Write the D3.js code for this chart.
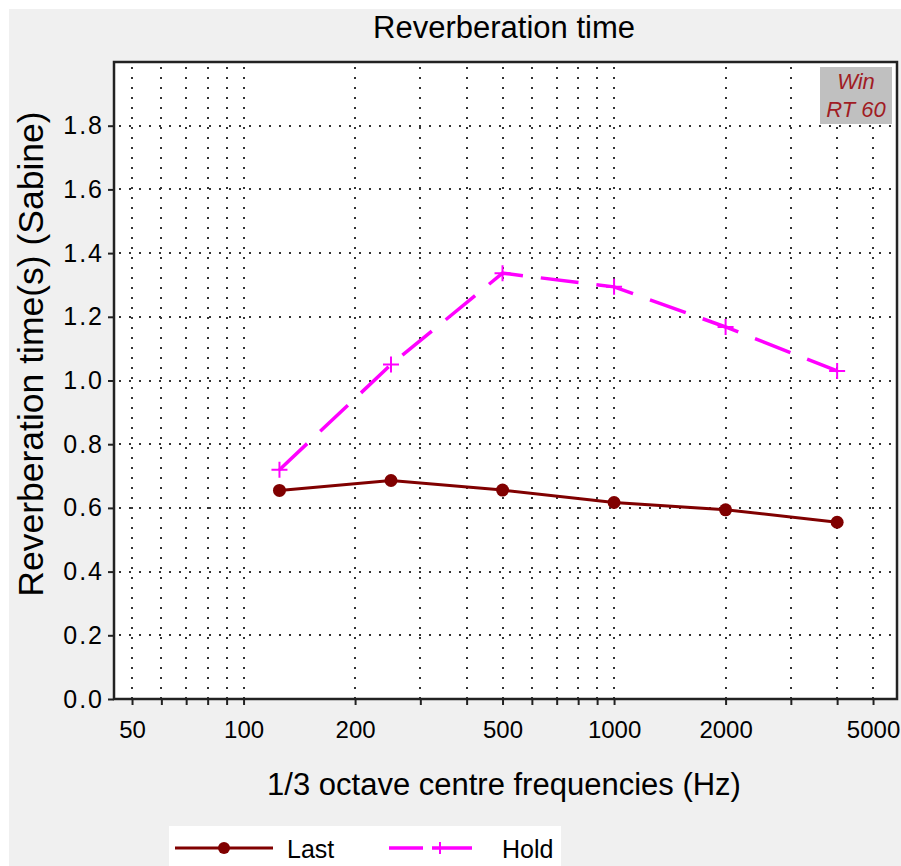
<!DOCTYPE html>
<html>
<head>
<meta charset="utf-8">
<script src="https://cdn.jsdelivr.net/npm/d3@7"></script>
<style>
  body { margin: 0; background: #fff; }
  svg { display: block; font-family: "Liberation Sans", Arial, sans-serif; }
</style>
</head>
<body>
<svg id="chart" width="901" height="866"></svg>
<script>
// values
const freqs = [125, 250, 500, 1000, 2000, 4000];
const lastRT = [0.655, 0.686, 0.656, 0.617, 0.594, 0.555];
const holdRT = [0.72, 1.05, 1.337, 1.294, 1.168, 1.03];
const xTickLabels = [50, 100, 200, 500, 1000, 2000, 5000];
const yTicks = [0, 0.2, 0.4, 0.6, 0.8, 1.0, 1.2, 1.4, 1.6, 1.8];
const seriesNames = ['Last', 'Hold'];

const svg = d3.select('#chart');

// window background
svg.append('rect').attr('x', 9).attr('y', 9).attr('width', 892).attr('height', 857).attr('fill', '#f0f0f0');

const plot = {left: 114, top: 62, right: 897, bottom: 699};

const x = d3.scaleLog()
  .domain([44.7, 5803])
  .range([plot.left, plot.right]);

const y = d3.scaleLinear()
  .domain([0, 2])
  .range([plot.bottom, plot.top]);

// plot area
svg.append('rect')
  .attr('x', plot.left).attr('y', plot.top)
  .attr('width', plot.right - plot.left).attr('height', plot.bottom - plot.top)
  .attr('fill', '#fff');

// dotted grid
const grid = svg.append('g').attr('stroke', '#333').attr('stroke-width', 2).attr('stroke-dasharray', '2,8');
const xGridTicks = x.ticks();
grid.selectAll('line.v').data(xGridTicks).enter().append('line')
  .attr('x1', d => Math.round(x(d))).attr('x2', d => Math.round(x(d)))
  .attr('y1', plot.top + 5).attr('y2', plot.bottom);
grid.selectAll('line.h').data(yTicks.filter(d => d > 0)).enter().append('line')
  .attr('y1', d => Math.round(y(d))).attr('y2', d => Math.round(y(d)))
  .attr('x1', plot.left + 5).attr('x2', plot.right);

// axes
const xAxis = d3.axisBottom(x)
  .tickValues(xGridTicks)
  .tickSize(6)
  .tickFormat(d => xTickLabels.includes(d) ? d : '');
const gx = svg.append('g')
  .attr('transform', `translate(0,${plot.bottom})`)
  .call(xAxis);
gx.select('.domain').remove();
gx.selectAll('line').attr('stroke', '#222').attr('stroke-width', 2);
gx.selectAll('text').attr('font-size', 24).attr('fill', '#000').attr('dy', '1.25em')
  .attr('font-family', '"Liberation Sans", Arial, sans-serif');

const yAxis = d3.axisLeft(y)
  .tickValues(yTicks)
  .tickSize(6)
  .tickFormat(d3.format('.1f'));
const gy = svg.append('g')
  .attr('transform', `translate(${plot.left},0)`)
  .call(yAxis);
gy.select('.domain').remove();
gy.selectAll('line').attr('stroke', '#222').attr('stroke-width', 2);
gy.selectAll('text').attr('font-size', 25).attr('fill', '#000').attr('x', -10)
  .attr('letter-spacing', 2)
  .attr('font-family', '"Liberation Sans", Arial, sans-serif');

// frame
svg.append('rect')
  .attr('x', plot.left).attr('y', plot.top)
  .attr('width', plot.right - plot.left).attr('height', plot.bottom - plot.top)
  .attr('fill', 'none').attr('stroke', '#222').attr('stroke-width', 2.5);

// series
const lastData = freqs.map((f, i) => ({f, v: lastRT[i]}));
const holdData = freqs.map((f, i) => ({f, v: holdRT[i]}));
const line = d3.line().x(d => x(d.f)).y(d => y(d.v));

svg.append('path').datum(holdData)
  .attr('fill', 'none').attr('stroke', '#ff00ff').attr('stroke-width', 3.5)
  .attr('stroke-dasharray', '38,18')
  .attr('d', line);

svg.append('g').selectAll('path').data(holdData).enter().append('path')
  .attr('d', d => `M${x(d.f) - 8},${y(d.v)}h16M${x(d.f)},${y(d.v) - 8}v16`)
  .attr('stroke', '#ff00ff').attr('stroke-width', 2);

svg.append('path').datum(lastData)
  .attr('fill', 'none').attr('stroke', '#800000').attr('stroke-width', 3)
  .attr('d', line);

svg.append('g').selectAll('circle').data(lastData).enter().append('circle')
  .attr('cx', d => x(d.f)).attr('cy', d => y(d.v)).attr('r', 6.5)
  .attr('fill', '#800000');

// Win RT 60 badge
svg.append('rect').attr('x', 820).attr('y', 67).attr('width', 72).attr('height', 57).attr('fill', '#c0c0c0');
svg.append('text').attr('x', 856).attr('y', 89).attr('text-anchor', 'middle')
  .attr('font-size', 22).attr('font-style', 'italic').attr('fill', '#a01c24').text('Win');
svg.append('text').attr('x', 856).attr('y', 117).attr('text-anchor', 'middle')
  .attr('font-size', 22).attr('font-style', 'italic').attr('fill', '#a01c24').text('RT 60');

// titles
svg.append('text').attr('x', 504).attr('y', 38).attr('text-anchor', 'middle')
  .attr('font-size', 31).attr('fill', '#000').text('Reverberation time');
svg.append('text').attr('x', 504).attr('y', 795).attr('text-anchor', 'middle')
  .attr('font-size', 31).attr('fill', '#000').text('1/3 octave centre frequencies (Hz)');
svg.append('text')
  .attr('transform', 'translate(43,354) rotate(-90)')
  .attr('text-anchor', 'middle')
  .attr('font-size', 35.5).attr('fill', '#000').text('Reverberation time(s) (Sabine)');

// legend
const legend = svg.append('g');
legend.append('rect').attr('x', 169).attr('y', 826).attr('width', 392).attr('height', 50).attr('fill', '#fff');
const ly = 848;
legend.append('line').attr('x1', 175).attr('x2', 273).attr('y1', ly).attr('y2', ly)
  .attr('stroke', '#800000').attr('stroke-width', 3);
legend.append('circle').attr('cx', 224).attr('cy', ly).attr('r', 6).attr('fill', '#800000');
legend.append('text').attr('x', 287).attr('y', ly + 10).attr('font-size', 25).attr('fill', '#000').text(seriesNames[0]);
legend.append('line').attr('x1', 389).attr('x2', 472).attr('y1', ly).attr('y2', ly)
  .attr('stroke', '#ff00ff').attr('stroke-width', 3.5).attr('stroke-dasharray', '34,9,40');
legend.append('path').attr('d', `M432,${ly}h16M440,${ly - 6}v12`)
  .attr('stroke', '#ff00ff').attr('stroke-width', 2);
legend.append('text').attr('x', 502).attr('y', ly + 10).attr('font-size', 25).attr('fill', '#000').text(seriesNames[1]);
</script>
</body>
</html>
